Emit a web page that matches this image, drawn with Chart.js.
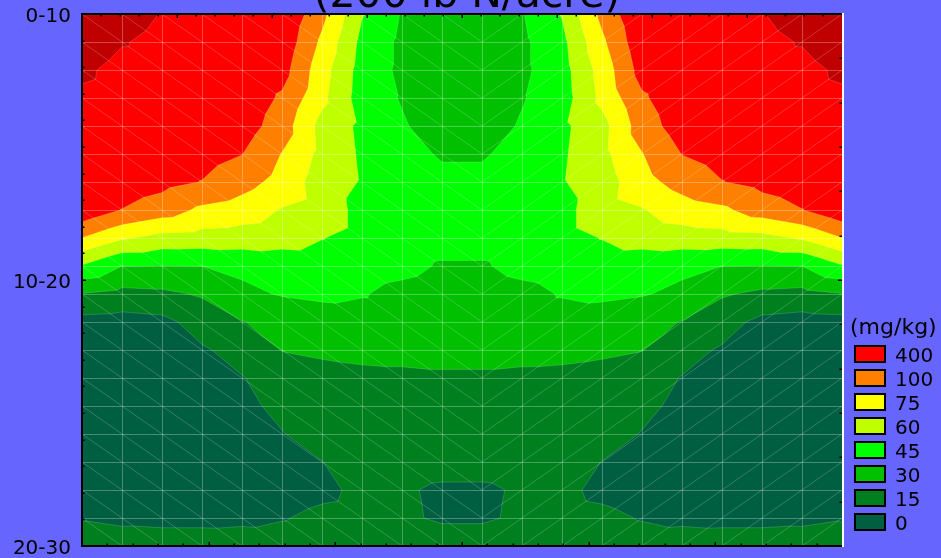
<!DOCTYPE html>
<html>
<head>
<meta charset="utf-8">
<title>Soil nitrate section</title>
<script src="https://cdn.jsdelivr.net/npm/chart.js@4.4.1/dist/chart.umd.min.js"></script>
<style>
  html, body { margin: 0; padding: 0; background: #6666ff; overflow: hidden; }
  canvas { display: block; }
</style>
</head>
<body>
<canvas id="chart" width="941" height="558"></canvas>
<script>
// Soil nitrate (mg/kg) on a 20 x 20 sampling grid across the section.
// One array per sampling row, from the surface down, left to right.
const row00 = [1360, 1180, 982, 880, 910, 970, 184, 61, 44, 37.5, 37.5, 44, 61, 184, 970, 910, 880, 982, 1180, 1360];
const row01 = [1300, 1030, 880, 880, 910, 826, 95, 56, 42, 38, 38, 42, 56, 95, 826, 910, 880, 880, 1030, 1300];
const row02 = [1090, 850, 850, 880, 910, 640, 85, 54, 42, 38, 38, 42, 54, 85, 640, 910, 880, 850, 850, 1090];
const row03 = [910, 820, 820, 850, 820, 355, 81, 53, 44, 38, 38, 44, 53, 81, 355, 820, 850, 820, 820, 910];
const row04 = [880, 820, 760, 760, 700, 250, 70, 57, 46.5, 38, 38, 46.5, 57, 70, 250, 700, 760, 760, 820, 880];
const row05 = [820, 760, 700, 640, 412, 99, 71, 58, 52, 43, 43, 52, 58, 71, 99, 412, 640, 700, 760, 820];
const row06 = [880, 760, 580, 391, 220, 91, 67.5, 59, 54, 50, 50, 54, 59, 67.5, 91, 220, 391, 580, 760, 880];
const row07 = [850, 391, 250, 95, 88, 74, 69, 55, 52, 50, 50, 52, 55, 69, 74, 88, 95, 250, 391, 850];
const row08 = [99.5, 78, 70, 69, 68, 66, 60.5, 55, 52, 51, 51, 52, 55, 60.5, 66, 68, 69, 70, 78, 99.5];
const row09 = [59, 45, 44.5, 45, 48, 51, 52.5, 52, 49.5, 43.5, 43.5, 49.5, 52, 52.5, 51, 48, 45, 44.5, 45, 59];
const row10 = [29.5, 25.5, 27, 31.5, 42, 46, 48, 46, 40.5, 37.5, 37.5, 40.5, 46, 48, 46, 42, 31.5, 27, 25.5, 29.5];
const row11 = [10, 9, 11, 21, 29.5, 34.5, 37.5, 39, 39, 38, 38, 39, 39, 37.5, 34.5, 29.5, 21, 11, 9, 10];
const row12 = [7.5, 7, 8, 13.5, 19.5, 30.5, 33, 34.5, 34.5, 34.5, 34.5, 34.5, 34.5, 33, 30.5, 19.5, 13.5, 8, 7, 7.5];
const row13 = [6, 5, 6, 9, 14.5, 19.5, 24, 26, 27, 28, 28, 27, 26, 24, 19.5, 14.5, 9, 6, 5, 6];
const row14 = [4.5, 4, 4.5, 7.5, 12, 18, 22.5, 24, 24, 24, 24, 24, 24, 22.5, 18, 12, 7.5, 4.5, 4, 4.5];
const row15 = [4.5, 4.5, 4.5, 6, 9, 14.5, 20, 22.5, 22.5, 22.5, 22.5, 22.5, 22.5, 20, 14.5, 9, 6, 4.5, 4.5, 4.5];
const row16 = [5, 4.5, 4.5, 5, 7.5, 10.5, 14.8, 20, 21, 20, 20, 21, 20, 14.8, 10.5, 7.5, 5, 4.5, 4.5, 5];
const row17 = [6, 5, 5, 6, 7.5, 9, 12, 18, 16.5, 13, 13, 16.5, 18, 12, 9, 7.5, 6, 5, 5, 6];
const row18 = [14.2, 12, 11, 11, 12, 14.2, 18, 19.5, 16.8, 13.5, 13.5, 16.8, 19.5, 18, 14.2, 12, 11, 11, 12, 14.2];
const row19 = [19.5, 22, 22.5, 22.5, 22, 21, 22, 22.5, 22.5, 21, 21, 22.5, 22.5, 22, 21, 22, 22.5, 22.5, 22, 19.5];

const nitrateGrid = [row00, row01, row02, row03, row04, row05, row06, row07, row08, row09,
                     row10, row11, row12, row13, row14, row15, row16, row17, row18, row19];

// Depth classes on the vertical axis, placed at sampling rows 0, 9.5 and 19.
const depthLabels = ['0-10', '10-20', '20-30'];
const depthTickRows = [0, 9.5, 19];

// Contour levels (mg/kg): lower bound of each legend band, plus the unlabelled peak band.
const legendLevels = [0, 15, 30, 45, 60, 75, 100, 400];
const peakLevel = 1000;
const bandColors = ['#005f40', '#007f1f', '#00c000', '#00ff00', '#c0ff00', '#ffff00', '#ff8000', '#ff0000', '#c00000'];

const chartTitle = '(200 lb N/acre)';
const unitLabel = '(mg/kg)';

const FONT = 'DejaVu Sans';
const contourLevels = legendLevels.concat([peakLevel]);

// Position of a value on the level scale: band k spans [k, k+1).
function levelPos(v) {
  const L = contourLevels;
  const n = L.length - 1;
  if (v >= L[n]) return n + (v - L[n]) / (L[n] - L[n - 1]);
  for (let k = n - 1; k >= 0; k--) {
    if (v >= L[k]) return k + (v - L[k]) / (L[k + 1] - L[k]);
  }
  return (v - L[0]) / (L[1] - L[0]);
}

function clipAbove(poly, t) {
  const out = [];
  for (let a = 0; a < poly.length; a++) {
    const P = poly[a], Q = poly[(a + 1) % poly.length];
    const pin = P.p >= t, qin = Q.p >= t;
    if (pin) out.push(P);
    if (pin !== qin) {
      const f = (t - P.p) / (Q.p - P.p);
      out.push({ x: P.x + f * (Q.x - P.x), y: P.y + f * (Q.y - P.y), p: t });
    }
  }
  return out;
}

function crossings(tri, t) {
  const pts = [];
  for (let a = 0; a < 3; a++) {
    const P = tri[a], Q = tri[(a + 1) % 3];
    if ((P.p >= t) !== (Q.p >= t)) {
      const f = (t - P.p) / (Q.p - P.p);
      pts.push({ x: P.x + f * (Q.x - P.x), y: P.y + f * (Q.y - P.y) });
    }
  }
  return pts;
}

function addPoly(ctx, poly) {
  let area = 0;
  for (let a = 0; a < poly.length; a++) {
    const P = poly[a], Q = poly[(a + 1) % poly.length];
    area += P.x * Q.y - Q.x * P.y;
  }
  const pts = area < 0 ? poly.slice().reverse() : poly;
  ctx.moveTo(pts[0].x, pts[0].y);
  for (let a = 1; a < pts.length; a++) ctx.lineTo(pts[a].x, pts[a].y);
  ctx.closePath();
}

// Filled contours on a triangulated grid, drawn through the chart scales.
const contourPlugin = {
  id: 'contour',
  beforeDraw(chart) {
    const ctx = chart.ctx;
    ctx.save();
    ctx.fillStyle = '#6666ff';
    ctx.fillRect(0, 0, chart.width, chart.height);
    ctx.restore();
  },
  beforeDatasetsDraw(chart) {
    const ctx = chart.ctx;
    const xs = chart.scales.x, ys = chart.scales.y;
    const nRows = nitrateGrid.length, nCols = nitrateGrid[0].length;
    const node = (i, j) => ({ x: xs.getPixelForValue(i), y: ys.getPixelForValue(j), p: levelPos(nitrateGrid[j][i]) });

    const tris = [];
    const half = (nCols - 2) / 2;
    for (let j = 0; j < nRows - 1; j++) {
      for (let i = 0; i < nCols - 1; i++) {
        const A = node(i, j), B = node(i + 1, j), C = node(i, j + 1), D = node(i + 1, j + 1);
        if (i <= half) { tris.push([A, B, D]); tris.push([A, D, C]); }
        else { tris.push([A, B, C]); tris.push([B, D, C]); }
      }
    }

    const area = chart.chartArea;
    ctx.save();
    ctx.fillStyle = bandColors[0];
    ctx.fillRect(area.left, area.top, area.right - area.left, area.bottom - area.top);
    for (let k = 1; k < bandColors.length; k++) {
      ctx.beginPath();
      let any = false;
      for (const t of tris) {
        const poly = clipAbove(t, k);
        if (poly.length >= 3) { addPoly(ctx, poly); any = true; }
      }
      if (any) { ctx.fillStyle = bandColors[k]; ctx.fill(); }
    }

    // Faint contour lines along each band edge
    ctx.lineWidth = 1;
    ctx.strokeStyle = 'rgba(255,255,255,0.16)';
    ctx.beginPath();
    for (let k = 1; k < bandColors.length; k++) {
      for (const t of tris) {
        const seg = crossings(t, k);
        if (seg.length === 2) { ctx.moveTo(seg[0].x, seg[0].y); ctx.lineTo(seg[1].x, seg[1].y); }
      }
    }
    ctx.stroke();

    // Triangulation mesh
    ctx.strokeStyle = 'rgba(255,255,255,0.28)';
    ctx.beginPath();
    for (let i = 1; i < nCols - 1; i++) {
      const x = Math.round(xs.getPixelForValue(i)) + 0.5;
      ctx.moveTo(x, area.top); ctx.lineTo(x, area.bottom);
    }
    for (let j = 1; j < nRows - 1; j++) {
      const y = Math.round(ys.getPixelForValue(j)) + 0.5;
      ctx.moveTo(area.left, y); ctx.lineTo(area.right, y);
    }
    ctx.stroke();
    ctx.strokeStyle = 'rgba(255,255,255,0.2)';
    ctx.beginPath();
    for (let j = 0; j < nRows - 1; j++) {
      for (let i = 0; i < nCols - 1; i++) {
        const x0 = xs.getPixelForValue(i), x1 = xs.getPixelForValue(i + 1);
        const y0 = ys.getPixelForValue(j), y1 = ys.getPixelForValue(j + 1);
        if (i <= half) { ctx.moveTo(x0, y0); ctx.lineTo(x1, y1); }
        else { ctx.moveTo(x0, y1); ctx.lineTo(x1, y0); }
      }
    }
    ctx.stroke();

    // Frame
    const w = area.right - area.left, h = area.bottom - area.top;
    ctx.fillStyle = '#000';
    ctx.fillRect(area.left - 1, area.top - 1, 2, h + 2);
    ctx.fillRect(area.left - 1, area.top - 1, w + 2, 2);
    ctx.fillRect(area.left - 1, area.bottom - 1, w + 2, 2);
    ctx.fillStyle = '#ffffff';
    ctx.fillRect(area.right, area.top - 1, 2, h + 2);

    // Inward tick marks
    ctx.fillStyle = '#000';
    const sideTicks = (n, major, draw) => {
      for (let k = 1; k < n; k++) draw(k / n, k % major === 0 ? 4 : 2.5);
    };
    sideTicks(30, 5, (f, len) => ctx.fillRect(Math.round(area.left + f * w) - 0.5, area.bottom - len, 1.5, len));
    sideTicks(40, 5, (f, len) => ctx.fillRect(Math.round(area.left + f * w) - 0.5, area.top, 1.5, len));
    sideTicks(20, 10, (f, len) => ctx.fillRect(area.left, Math.round(area.top + f * h) - 0.5, len, 1.5));
    sideTicks(12, 6, (f, len) => ctx.fillRect(area.right - len, Math.round(area.top + f * h) - 0.5, len, 1.5));
    ctx.restore();
  },
  afterDraw(chart) {
    const ctx = chart.ctx;
    ctx.save();
    ctx.fillStyle = '#000';
    ctx.textAlign = 'center';
    ctx.textBaseline = 'alphabetic';
    ctx.font = '41px "' + FONT + '"';
    ctx.fillText(chartTitle, 467, 7);

    // Legend
    ctx.textAlign = 'left';
    ctx.font = '22px "' + FONT + '"';
    ctx.fillText(unitLabel, 850, 334);
    ctx.font = '20px "' + FONT + '"';
    for (let n = 0; n < legendLevels.length; n++) {
      const k = legendLevels.length - 1 - n;
      const top = 345 + 24 * n;
      ctx.fillStyle = bandColors[k];
      ctx.fillRect(855, top + 1, 30, 16);
      ctx.strokeStyle = '#000';
      ctx.lineWidth = 2;
      ctx.strokeRect(855, top + 1, 30, 16);
      ctx.fillStyle = '#000';
      ctx.fillText(String(legendLevels[k]), 895, top + 17);
    }
    ctx.restore();
  }
};

new Chart(document.getElementById('chart'), {
  type: 'scatter',
  data: { datasets: [] },
  options: {
    responsive: false,
    devicePixelRatio: 1,
    animation: false,
    layout: { padding: { top: 14, right: 99, bottom: 12, left: 0 } },
    plugins: { legend: { display: false }, title: { display: false }, tooltip: { enabled: false } },
    scales: {
      x: { type: 'linear', min: 0, max: 19, display: false },
      y: {
        type: 'linear', min: 0, max: 19, reverse: true, position: 'left',
        grid: { display: false, drawTicks: false },
        border: { display: false },
        afterBuildTicks: (scale) => { scale.ticks = depthTickRows.map(v => ({ value: v })); },
        afterFit: (scale) => { scale.width = 82; scale.paddingTop = 0; scale.paddingBottom = 0; },
        ticks: {
          autoSkip: false,
          padding: 11,
          labelOffset: 3,
          color: '#000',
          font: { family: FONT, size: 20, lineHeight: 1 },
          callback: (value, index) => depthLabels[index]
        }
      }
    }
  },
  plugins: [contourPlugin]
});
</script>
</body>
</html>
